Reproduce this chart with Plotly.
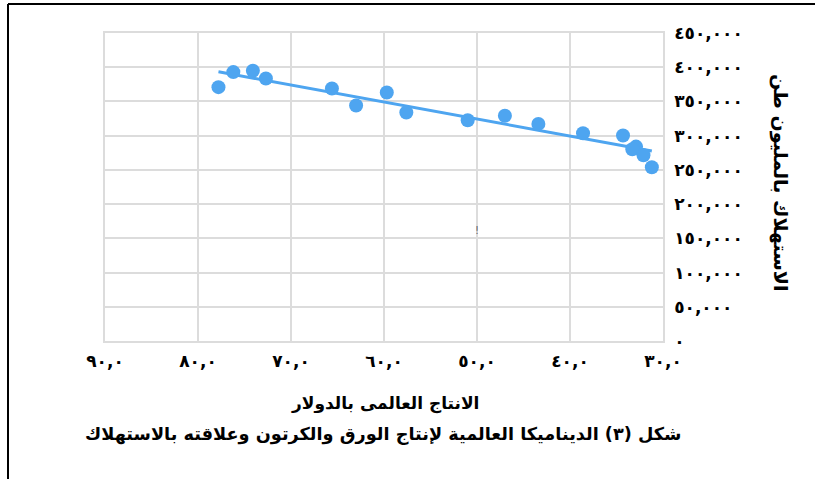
import numpy as np
import plotly.graph_objects as go

# Data (x: world production in $, y: consumption)
production = [77.8, 76.2, 74.1, 72.7, 65.6, 63.0, 59.7, 57.6, 51.0, 47.0,
              43.4, 38.6, 34.3, 32.9, 33.3, 32.1, 31.2]
consumption = [370900, 392900, 394800, 383600, 369000, 344100, 363100, 333800,
               322600, 329000, 317200, 303600, 300200, 284000, 280100, 271400, 253800]

x_tick_vals = [90, 80, 70, 60, 50, 40, 30]
x_tick_text = ["٩٠,٠", "٨٠,٠", "٧٠,٠", "٦٠,٠", "٥٠,٠", "٤٠,٠", "٣٠,٠"]
y_tick_vals = [0, 50000, 100000, 150000, 200000, 250000, 300000, 350000, 400000, 450000]
y_tick_text = ["٠", "٥٠,٠٠٠", "١٠٠,٠٠٠", "١٥٠,٠٠٠", "٢٠٠,٠٠٠", "٢٥٠,٠٠٠",
               "٣٠٠,٠٠٠", "٣٥٠,٠٠٠", "٤٠٠,٠٠٠", "٤٥٠,٠٠٠"]

x_title = "الانتاج العالمى بالدولار"
y_title = "الاستهلاك بالمليون طن"
caption = "شكل (٣) الديناميكا العالمية لإنتاج الورق والكرتون وعلاقته بالاستهلاك"

BLUE = "#4ea5f0"
FONT = "DejaVu Sans, Noto Sans, sans-serif"

# Linear trend line
xa = np.array(production)
ya = np.array(consumption)
slope, intercept = np.polyfit(xa, ya, 1)
trend_x = [xa.max(), xa.min()]
trend_y = [slope * v + intercept for v in trend_x]

L, R, T, B = 105, 663, 33, 341
PW, PH = R - L, B - T

def px(xpix):
    return (xpix - L) / PW

def py(ypix):
    return (B - ypix) / PH

fig = go.Figure()
fig.add_trace(go.Scatter(x=trend_x, y=trend_y, mode="lines",
                         line=dict(color=BLUE, width=3), hoverinfo="skip"))
fig.add_trace(go.Scatter(x=production, y=consumption, mode="markers",
                         marker=dict(color=BLUE, size=14)))

fig.update_layout(
    width=815, height=479,
    margin=dict(l=L, r=815 - R, t=T, b=479 - B),
    paper_bgcolor="white", plot_bgcolor="white",
    showlegend=False,
    font=dict(family=FONT, color="black"),
    xaxis=dict(range=[90, 30], tickvals=x_tick_vals, ticktext=["<b>" + t + "</b>" for t in x_tick_text],
               showgrid=True, gridcolor="#dcdcdc", gridwidth=1.5, automargin=False,
               zeroline=False, showline=True, linecolor="#dcdcdc", linewidth=1.5,
               mirror=True, ticks="", tickfont=dict(size=17, family=FONT),
               ticklabelstandoff=4),
    yaxis=dict(range=[0, 450000], side="right", tickvals=y_tick_vals,
               ticktext=["<b>" + t + "</b>" for t in y_tick_text], showgrid=True, gridcolor="#dcdcdc",
               gridwidth=1.5, zeroline=False, showline=True, linecolor="#dcdcdc",
               linewidth=1.5, mirror=True, ticks="", automargin=False,
               tickfont=dict(size=17, family=FONT), ticklabelstandoff=6),
)

fig.add_annotation(text="<b>" + y_title + "</b>", xref="paper", yref="paper",
                   x=px(781), y=py(183), showarrow=False, textangle=90,
                   font=dict(size=19, family=FONT), xanchor="center", yanchor="middle")
fig.add_annotation(text="<b>" + x_title + "</b>", xref="paper", yref="paper",
                   x=px(385), y=py(403), showarrow=False,
                   font=dict(size=17, family=FONT), xanchor="center", yanchor="middle")
fig.add_annotation(text="<b>" + caption + "</b>", xref="paper", yref="paper",
                   x=px(383), y=py(434), showarrow=False,
                   font=dict(size=17.7, family=FONT), xanchor="center", yanchor="middle")
fig.add_annotation(text="!", x=50, y=162000, showarrow=False,
                   font=dict(size=10, color="#666"))

# Page frame (top and left border)
fig.add_shape(type="line", xref="paper", yref="paper",
              x0=px(8), x1=px(815), y0=py(4), y1=py(4),
              line=dict(color="black", width=2))
fig.add_shape(type="line", xref="paper", yref="paper",
              x0=px(8), x1=px(8), y0=py(4), y1=py(479),
              line=dict(color="black", width=2))

fig.write_html("out.html", config={"displayModeBar": False},
               post_script="document.body.style.margin='0';document.body.style.overflow='hidden';")
